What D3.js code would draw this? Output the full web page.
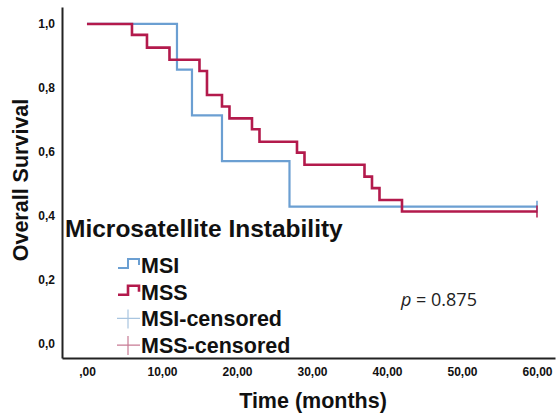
<!DOCTYPE html>
<html>
<head>
<meta charset="utf-8">
<script src="https://cdn.jsdelivr.net/npm/d3@7"></script>
<style>
  body { margin: 0; background: #fff; }
  svg { display: block; font-family: "Liberation Sans", Arial, sans-serif; }
  .tick text { font-weight: bold; font-size: 12px; fill: #111; }
</style>
</head>
<body>
<svg id="chart" width="559" height="413"></svg>
<script>
'use strict';

// survival curves (months, cumulative survival)
var msiTimes = [0, 12, 14, 18, 27, 60];
var msiSurv = [1, 0.857, 0.714, 0.571, 0.429, 0.429];

var mssTimes = [0, 6, 8, 11, 15, 16, 18, 19, 22, 23, 28, 29, 37, 38, 39, 42, 60];
var mssSurv = [1, 0.966, 0.926, 0.888, 0.853, 0.778, 0.742, 0.705, 0.671, 0.632, 0.598, 0.560, 0.523, 0.487, 0.450, 0.414, 0.414];

var xTicks = [0, 10, 20, 30, 40, 50, 60];
var xTickLabels = [',00', '10,00', '20,00', '30,00', '40,00', '50,00', '60,00'];
var yTicks = [0, 0.2, 0.4, 0.6, 0.8, 1];
var yTickLabels = ['0,0', '0,2', '0,4', '0,6', '0,8', '1,0'];

var legendNames = ['MSI', 'MSS', 'MSI-censored', 'MSS-censored'];

var msiColor = '#6b9fd2';
var mssColor = '#b31a4c';
var msiCensColor = '#a9c5e0';
var mssCensColor = '#c77b94';

var svg = d3.select('#chart');

var x = d3.scaleLinear().domain([-3.33, 62.4]).range([62, 555]);
var y = d3.scaleLinear().domain([-0.044, 1.053]).range([358, 7]);

// axes (left + bottom only, no tick marks)
var xAxis = d3.axisBottom(x)
  .tickValues(xTicks)
  .tickSize(0)
  .tickPadding(9)
  .tickFormat(function (d, i) { return xTickLabels[i]; });

var yAxis = d3.axisLeft(y)
  .tickValues(yTicks)
  .tickSize(0)
  .tickPadding(7)
  .tickFormat(function (d, i) { return yTickLabels[i]; });

var gx = svg.append('g').attr('transform', 'translate(0,358)').call(xAxis);
var gy = svg.append('g').attr('transform', 'translate(62,0)').call(yAxis);
gx.select('.domain').attr('stroke', '#222').attr('stroke-width', 2);
gy.select('.domain').attr('stroke', '#222').attr('stroke-width', 2);

// curves
function toPoints(times, surv) {
  return times.map(function (t, i) { return [t, surv[i]]; });
}

var line = d3.line()
  .x(function (d) { return x(d[0]); })
  .y(function (d) { return y(d[1]); })
  .curve(d3.curveStepAfter);

var curves = [
  { pts: toPoints(msiTimes, msiSurv), color: msiColor, width: 2.2 },
  { pts: toPoints(mssTimes, mssSurv), color: mssColor, width: 2.6 }
];

curves.forEach(function (c) {
  svg.append('path')
    .attr('d', line(c.pts))
    .attr('fill', 'none')
    .attr('stroke', c.color)
    .attr('stroke-width', c.width);

  // censor mark at last follow-up
  var last = c.pts[c.pts.length - 1];
  svg.append('line')
    .attr('x1', x(last[0])).attr('x2', x(last[0]))
    .attr('y1', y(last[1]) - 6).attr('y2', y(last[1]) + 6)
    .attr('stroke', c.color)
    .attr('stroke-width', 1.5);
});

// axis titles
svg.append('text')
  .attr('x', 313)
  .attr('y', 407.5)
  .attr('text-anchor', 'middle')
  .style('font-weight', 'bold')
  .style('font-size', '21.5px')
  .attr('fill', '#111')
  .text('Time (months)');

svg.append('text')
  .attr('transform', 'translate(28,180) rotate(-90)')
  .attr('text-anchor', 'middle')
  .style('font-weight', 'bold')
  .style('font-size', '21.5px')
  .attr('fill', '#111')
  .text('Overall Survival');

// legend
svg.append('text')
  .attr('x', 65)
  .attr('y', 237)
  .style('font-weight', 'bold')
  .style('font-size', '24.5px')
  .attr('fill', '#111')
  .text('Microsatellite Instability');

var legendColors = [msiColor, mssColor, msiCensColor, mssCensColor];

legendNames.forEach(function (name, i) {
  var by = 273 + i * 26.7;
  var g = svg.append('g');
  if (i < 2) {
    g.append('path')
      .attr('d', 'M118,' + (by - 5) + 'H128V' + (by - 14) + 'H139V' + (by - 8))
      .attr('fill', 'none')
      .attr('stroke', legendColors[i])
      .attr('stroke-width', i === 0 ? 2 : 2.6);
  } else {
    g.append('path')
      .attr('d', 'M117,' + (by - 8) + 'H140M128,' + (by - 17) + 'V' + (by + 2))
      .attr('fill', 'none')
      .attr('stroke', legendColors[i])
      .attr('stroke-width', 1.2);
  }
  g.append('text')
    .attr('x', 141)
    .attr('y', by)
    .style('font-weight', 'bold')
    .style('font-size', '21.5px')
    .attr('fill', '#111')
    .text(name);
});

// p value
var pText = svg.append('text')
  .attr('x', 401)
  .attr('y', 306)
  .style('font-family', '"Open Sans", sans-serif')
  .style('font-size', '18px')
  .attr('fill', '#222');
pText.append('tspan').style('font-style', 'italic').text('p');
pText.append('tspan').text(' = 0.875');
</script>
</body>
</html>
